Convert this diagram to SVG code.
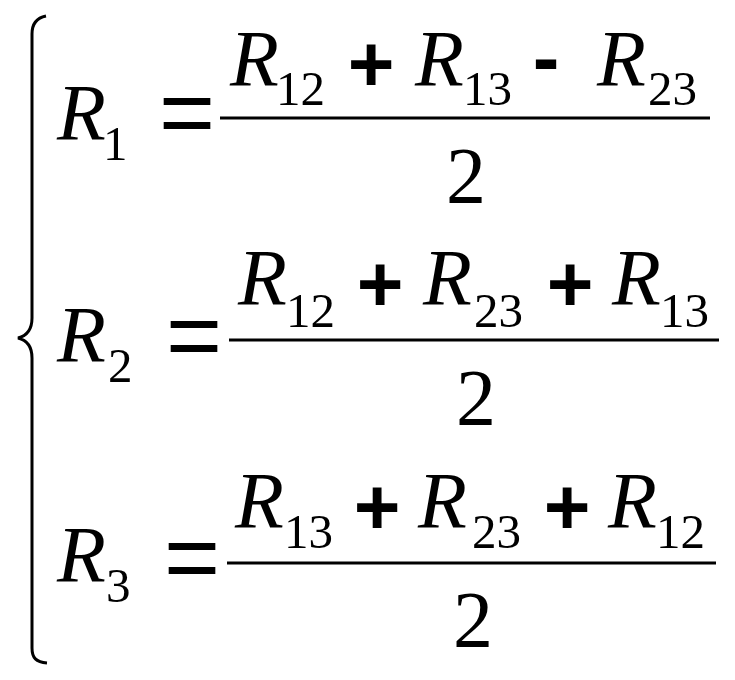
<svg xmlns="http://www.w3.org/2000/svg" width="735" height="680" viewBox="0 0 735 680">
<style>
.v{font-family:"Liberation Serif","Times New Roman",serif;font-style:italic;font-size:80px;fill:#000}
.s{font-family:"Liberation Serif","Times New Roman",serif;font-size:49px;fill:#000}
.n{font-family:"Liberation Serif","Times New Roman",serif;font-size:80px;fill:#000}
.op{font-family:"Liberation Sans",Arial,sans-serif;font-weight:bold;font-size:80px;fill:#000;text-anchor:middle}
.eq{font-family:"Liberation Sans",Arial,sans-serif;font-size:96px;fill:#000;text-anchor:middle}
.bar{stroke:#000;stroke-width:3;fill:none}
</style>
<rect width="735" height="680" fill="#fff"/>
<g id="brace">
<path class="bar" d="M46,16 C36,18 32,24 32,34 L32,318 C32,330 26,336 18,338 C26,340 32,346 32,358 L32,648 C32,658 36,662 47,663"/>
</g>
<g id="eq1">
<text class="v" x="57" y="140">R</text><text class="s" x="103" y="160">1</text>
<text class="eq" x="187" y="145">=</text>
<line class="bar" x1="220" y1="118" x2="710" y2="118"/>
<text class="v" x="230" y="86">R</text><text class="s" x="276" y="105">12</text>
<text class="op" x="371" y="91">+</text>
<text class="v" x="415" y="86">R</text><text class="s" x="463" y="105">13</text>
<text class="op" x="546" y="85">-</text>
<text class="v" x="597" y="86">R</text><text class="s" x="648" y="105">23</text>
<text class="n" x="446" y="203">2</text>
</g>
<g id="eq2">
<text class="v" x="57" y="362">R</text><text class="s" x="108" y="382">2</text>
<text class="eq" x="194" y="368">=</text>
<line class="bar" x1="229" y1="340" x2="719" y2="340"/>
<text class="v" x="238" y="305">R</text><text class="s" x="286" y="327">12</text>
<text class="op" x="380" y="311">+</text>
<text class="v" x="423" y="305">R</text><text class="s" x="474" y="327">23</text>
<text class="op" x="570" y="311">+</text>
<text class="v" x="612" y="305">R</text><text class="s" x="660" y="327">13</text>
<text class="n" x="456" y="425">2</text>
</g>
<g id="eq3">
<text class="v" x="57" y="582">R</text><text class="s" x="106" y="602">3</text>
<text class="eq" x="192" y="590">=</text>
<line class="bar" x1="227" y1="563" x2="716" y2="563"/>
<text class="v" x="235" y="528">R</text><text class="s" x="284" y="548">13</text>
<text class="op" x="377" y="534">+</text>
<text class="v" x="418" y="528">R</text><text class="s" x="472" y="548">23</text>
<text class="op" x="567" y="534">+</text>
<text class="v" x="608" y="528">R</text><text class="s" x="656" y="548">12</text>
<text class="n" x="453" y="647">2</text>
</g>
</svg>
